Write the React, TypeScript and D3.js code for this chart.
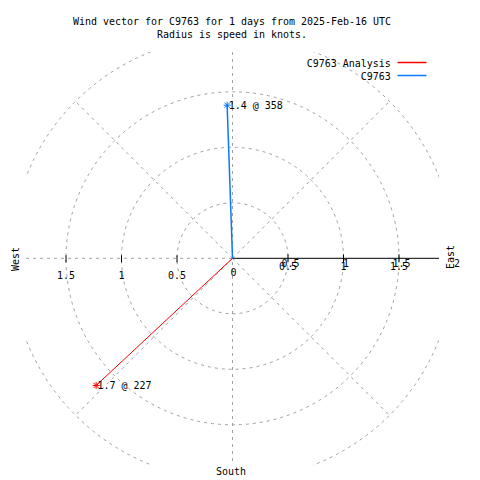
import React from "react";
import * as d3 from "d3";

const TITLE_LINES = [
  "Wind vector for C9763 for 1 days from 2025-Feb-16 UTC",
  "Radius is speed in knots.",
];
const SERIES_NAMES = ["C9763 Analysis", "C9763"];
const SERIES_SPEEDS = [1.68, 1.38];
const SERIES_DIRECTIONS = [227, 358];
const SERIES_COLORS = ["#ff0000", "#0a78ff"];
const GRID_RADII = [0.5, 1, 1.5, 2];
const GRID_SPOKES = [45, 135, 225, 315];
const LEFT_TICKS = [1.5, 1, 0.5];
const CENTER_TICK = [0];
const RIGHT_TICKS = [0.5, 1, 1.5];
const POLAR_TICKS = [0.5, 1, 1.5, 2];
const AXIS_TICKS = [0.5, 1, 1.5];

const W = 480;
const H = 480;
const CX = 232.5;
const CY = 258.3;
const BOX = { x0: 26, x1: 439, y0: 52, y1: 465 };
const FONT = "'DejaVu Sans Mono', 'Liberation Mono', monospace";
const GRID = "#a0a0a0";
const DASH = "3,4";

const r = d3.scaleLinear().domain([0, 2]).range([0, 222]);

function Mono({ x, y, text, anchor = "start", transform, fill = "#000" }: any) {
  return (
    <text
      x={x}
      y={y}
      textAnchor={anchor}
      transform={transform}
      fontFamily={FONT}
      fontSize={11}
      fill={fill}
      textLength={text.length * 6}
      lengthAdjust="spacingAndGlyphs"
    >
      {text}
    </text>
  );
}

function Star({ x, y, color }: any) {
  const a = 3.5;
  const d = a * 0.75;
  return (
    <g stroke={color} strokeWidth={1}>
      <line x1={x - a} y1={y} x2={x + a} y2={y} />
      <line x1={x} y1={y - a} x2={x} y2={y + a} />
      <line x1={x - d} y1={y - d} x2={x + d} y2={y + d} />
      <line x1={x - d} y1={y + d} x2={x + d} y2={y - d} />
    </g>
  );
}

export default function App() {
  const pts = SERIES_NAMES.map((name, i) => {
    const rad = (SERIES_DIRECTIONS[i] * Math.PI) / 180;
    const rr = r(SERIES_SPEEDS[i]);
    return {
      name,
      color: SERIES_COLORS[i],
      x: CX + rr * Math.sin(rad),
      y: CY - rr * Math.cos(rad),
      label: `${SERIES_SPEEDS[i].toFixed(1)} @ ${SERIES_DIRECTIONS[i]}`,
    };
  });

  return (
    <svg
      width={W}
      height={H}
      style={{ position: "absolute", left: 0, top: 0, background: "#fff" }}
    >
      <defs>
        <clipPath id="box">
          <rect x={BOX.x0} y={BOX.y0} width={BOX.x1 - BOX.x0} height={BOX.y1 - BOX.y0} />
        </clipPath>
      </defs>
      <rect x={0} y={0} width={W} height={H} fill="#fff" />

      {/* grid */}
      <g clipPath="url(#box)" stroke={GRID} fill="none" strokeDasharray={DASH} strokeWidth={1}>
        {GRID_RADII.map((v) => (
          <circle key={v} cx={CX} cy={CY} r={r(v)} />
        ))}
        {GRID_SPOKES.map((a) => {
          const rad = (a * Math.PI) / 180;
          return (
            <line
              key={a}
              x1={CX}
              y1={CY}
              x2={CX + r(2) * Math.cos(rad)}
              y2={CY - r(2) * Math.sin(rad)}
            />
          );
        })}
        <line x1={CX} y1={BOX.y0} x2={CX} y2={BOX.y1} />
        <line x1={BOX.x0} y1={CY} x2={CX} y2={CY} />
      </g>

      {/* right axis */}
      <line x1={CX} y1={CY} x2={BOX.x1} y2={CY} stroke="#000" strokeWidth={1} />
      {AXIS_TICKS.map((v) => (
        <g key={v} stroke="#000">
          <line x1={CX + r(v)} y1={CY - 4} x2={CX + r(v)} y2={CY + 4} />
          <line x1={CX - r(v)} y1={CY - 3} x2={CX - r(v)} y2={CY + 4} />
        </g>
      ))}

      {/* tick labels */}
      {LEFT_TICKS.map((v) => (
        <Mono key={"l" + v} x={CX - r(v)} y={279} text={String(v)} anchor="middle" />
      ))}
      {CENTER_TICK.map((v) => (
        <Mono key={"c" + v} x={CX + r(v) + 1} y={276} text={String(v)} anchor="middle" />
      ))}
      {RIGHT_TICKS.map((v) => (
        <Mono key={"r" + v} x={CX + r(v)} y={270} text={String(v)} anchor="middle" />
      ))}
      {POLAR_TICKS.map((v) => (
        <Mono key={"p" + v} x={CX + r(v) + 2.5} y={267} text={String(v)} anchor="middle" />
      ))}

      {/* compass labels */}
      <Mono x={0} y={0} text="East" anchor="middle" transform={`translate(453.5,257) rotate(-90)`} />
      <Mono x={0} y={0} text="West" anchor="middle" transform={`translate(18.5,259) rotate(-90)`} />
      <Mono x={CX - 1.5} y={475} text="South" anchor="middle" />

      {/* data */}
      {pts.map((p) => (
        <g key={p.name}>
          <line x1={CX} y1={CY} x2={p.x} y2={p.y} stroke={p.color} strokeWidth={p.name === "C9763" ? 1.5 : 1} />
          <Star x={p.x} y={p.y} color={p.color} />
          <Mono x={p.x + 1.5} y={p.y + 3.5} text={p.label} />
        </g>
      ))}

      {/* title */}
      {TITLE_LINES.map((t, i) => (
        <Mono key={i} x={232} y={25 + i * 13} text={t} anchor="middle" />
      ))}

      {/* legend */}
      {SERIES_NAMES.map((n, i) => (
        <g key={n}>
          <Mono x={390.7} y={67 + i * 13} text={n} anchor="end" />
          <line x1={397.5} y1={62.5 + i * 13} x2={426.5} y2={62.5 + i * 13} stroke={SERIES_COLORS[i]} strokeWidth={1.5} />
        </g>
      ))}
    </svg>
  );
}
